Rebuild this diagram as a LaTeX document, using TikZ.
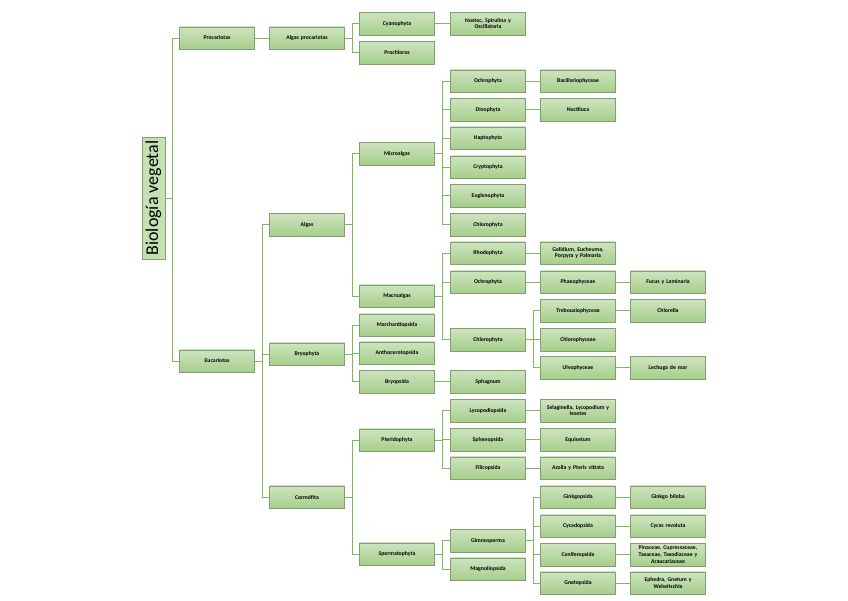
\documentclass[tikz,border=0pt]{standalone}
\usepackage{fontspec}
\setmainfont{Carlito}
\definecolor{boxtop}{RGB}{206,228,192}
\definecolor{boxbot}{RGB}{166,206,139}
\definecolor{boxline}{RGB}{128,160,108}
\definecolor{connc}{RGB}{128,184,92}
\definecolor{titlefill}{RGB}{198,224,180}
\begin{document}
\begin{tikzpicture}[x=0.75pt,y=-0.75pt,
  bx/.style={rectangle,top color=boxtop,bottom color=boxbot,draw=boxline,line width=0.35pt,
    minimum width=56.25pt,minimum height=16.9pt,inner sep=0pt,align=center,text width=52pt,
    font=\bfseries\fontsize{4.3}{5}\selectfont},
  conn/.style={draw=connc,line width=0.75pt},
  ttl/.style={rectangle,fill=titlefill,draw=boxline,line width=0.35pt,minimum width=91.5pt,minimum height=17.25pt,
    inner sep=0pt,rotate=90,font=\fontsize{13.5}{14}\selectfont}]
\useasboundingbox (0,0) rectangle (848,600);
% title
\node[ttl] (title) at (153.5,198) {Biología vegetal};
% column 1
\node[bx] (proc) at (217,38) {Procariotas};
\node[bx] (euc) at (217,361) {Eucariotas};
% column 2
\node[bx] (algpro) at (307,38) {Algas procariotas};
\node[bx] (algas) at (307,224.5) {Algas};
\node[bx] (bryo) at (307,354) {Bryophyta};
\node[bx] (corm) at (307,497) {Cormófita};
% column 3
\node[bx] (cyano) at (397,23.5) {Cyanophyta};
\node[bx] (prochl) at (397,52.5) {Prochloros};
\node[bx] (micro) at (397,153.5) {Microalgas};
\node[bx] (macro) at (397,296) {Macroalgas};
\node[bx] (march) at (397,325) {Marchantiopsida};
\node[bx] (antho) at (397,353) {Anthocerotopsida};
\node[bx] (bryops) at (397,381.5) {Bryopsida};
\node[bx] (pteri) at (397,440) {Pteridophyta};
\node[bx] (sperm) at (397,554) {Spermatophyta};
% column 4
\node[bx] (nostoc) at (488,23.5) {Nostoc, Spirulina y\\Oscillatoria};
\node[bx] (och1) at (488,81) {Ochrophyta};
\node[bx] (dino) at (488,109.5) {Dinophyta};
\node[bx] (hapto) at (488,138) {Haptophyta};
\node[bx] (crypto) at (488,167) {Cryptophyta};
\node[bx] (eugl) at (488,195.5) {Euglenophyta};
\node[bx] (chl1) at (488,224.5) {Chlorophyta};
\node[bx] (rhodo) at (488,253) {Rhodophyta};
\node[bx] (och2) at (488,282) {Ochrophyta};
\node[bx] (chl2) at (488,339.5) {Chlorophyta};
\node[bx] (sphag) at (488,381.5) {Sphagnum};
\node[bx] (lyco) at (488,410.5) {Lycopodiopsida};
\node[bx] (spheno) at (488,439.5) {Sphenopsida};
\node[bx] (filic) at (488,468) {Filicopsida};
\node[bx] (gimno) at (488,540.5) {Gimnosperma};
\node[bx] (magno) at (488,569) {Magnoliopsida};
% column 5
\node[bx] (bacil) at (578,81) {Bacillariophyceae};
\node[bx] (noct) at (578,109.5) {Noctiluca};
\node[bx] (gelid) at (578,253) {Gelidium, Eucheuma,\\Porpyra y Palmaria};
\node[bx] (phaeo) at (578,282) {Phaeophyceae};
\node[bx] (trebo) at (578,310.5) {Trebouxiophyceae};
\node[bx] (chlph) at (578,339.5) {Chlorophyceae};
\node[bx] (ulvo) at (578,367.5) {Ulvophyceae};
\node[bx] (selag) at (578,410.5) {Selaginella, Lycopodium y\\Isoetes};
\node[bx] (equis) at (578,439.5) {Equisetum};
\node[bx] (azolla) at (578,468) {Azolla y Pteris vittata};
\node[bx] (ginkp) at (578,497) {Ginkgopsida};
\node[bx] (cycp) at (578,526) {Cycadopsida};
\node[bx] (conif) at (578,554.5) {Coniferopsida};
\node[bx] (gnet) at (578,583) {Gnetopsida};
% column 6
\node[bx] (fucus) at (668,282) {Fucus y Laminaria};
\node[bx] (chlor) at (668,310.5) {Chlorella};
\node[bx] (lech) at (668,367.5) {Lechuga de mar};
\node[bx] (ginkb) at (668,497) {Ginkgo biloba};
\node[bx] (cycas) at (668,526) {Cycas revoluta};
\node[bx] (pinac) at (668,554.5) {Pinaceae, Cupressaceae,\\Taxaceae, Taxodiaceae y\\Araucariaceae};
\node[bx] (ephed) at (668,583) {Ephedra, Gnetum y\\Welwitschia};
% connectors
\foreach \c in {proc,euc} \draw[conn] (title.south) -- ++(7.5,0) |- (\c.west);
\draw[conn] (proc) -- (algpro);
\foreach \c in {algas,bryo,corm} \draw[conn] (euc.east) -- ++(7.5,0) |- (\c.west);
\foreach \c in {cyano,prochl} \draw[conn] (algpro.east) -- ++(7.5,0) |- (\c.west);
\foreach \c in {micro,macro} \draw[conn] (algas.east) -- ++(7.5,0) |- (\c.west);
\foreach \c in {march,antho,bryops} \draw[conn] (bryo.east) -- ++(7.5,0) |- (\c.west);
\foreach \c in {pteri,sperm} \draw[conn] (corm.east) -- ++(7.5,0) |- (\c.west);
\draw[conn] (cyano) -- (nostoc);
\foreach \c in {och1,dino,hapto,crypto,eugl,chl1} \draw[conn] (micro.east) -- ++(7.5,0) |- (\c.west);
\foreach \c in {rhodo,och2,chl2} \draw[conn] (macro.east) -- ++(7.5,0) |- (\c.west);
\draw[conn] (bryops) -- (sphag);
\foreach \c in {lyco,spheno,filic} \draw[conn] (pteri.east) -- ++(7.5,0) |- (\c.west);
\foreach \c in {gimno,magno} \draw[conn] (sperm.east) -- ++(7.5,0) |- (\c.west);
\draw[conn] (och1) -- (bacil);
\draw[conn] (dino) -- (noct);
\draw[conn] (rhodo) -- (gelid);
\draw[conn] (och2) -- (phaeo);
\foreach \c in {trebo,chlph,ulvo} \draw[conn] (chl2.east) -- ++(7.5,0) |- (\c.west);
\draw[conn] (lyco) -- (selag);
\draw[conn] (spheno) -- (equis);
\draw[conn] (filic) -- (azolla);
\foreach \c in {ginkp,cycp,conif,gnet} \draw[conn] (gimno.east) -- ++(7.5,0) |- (\c.west);
\draw[conn] (phaeo) -- (fucus);
\draw[conn] (trebo) -- (chlor);
\draw[conn] (ulvo) -- (lech);
\draw[conn] (ginkp) -- (ginkb);
\draw[conn] (cycp) -- (cycas);
\draw[conn] (conif) -- (pinac);
\draw[conn] (gnet) -- (ephed);
\end{tikzpicture}
\end{document}
